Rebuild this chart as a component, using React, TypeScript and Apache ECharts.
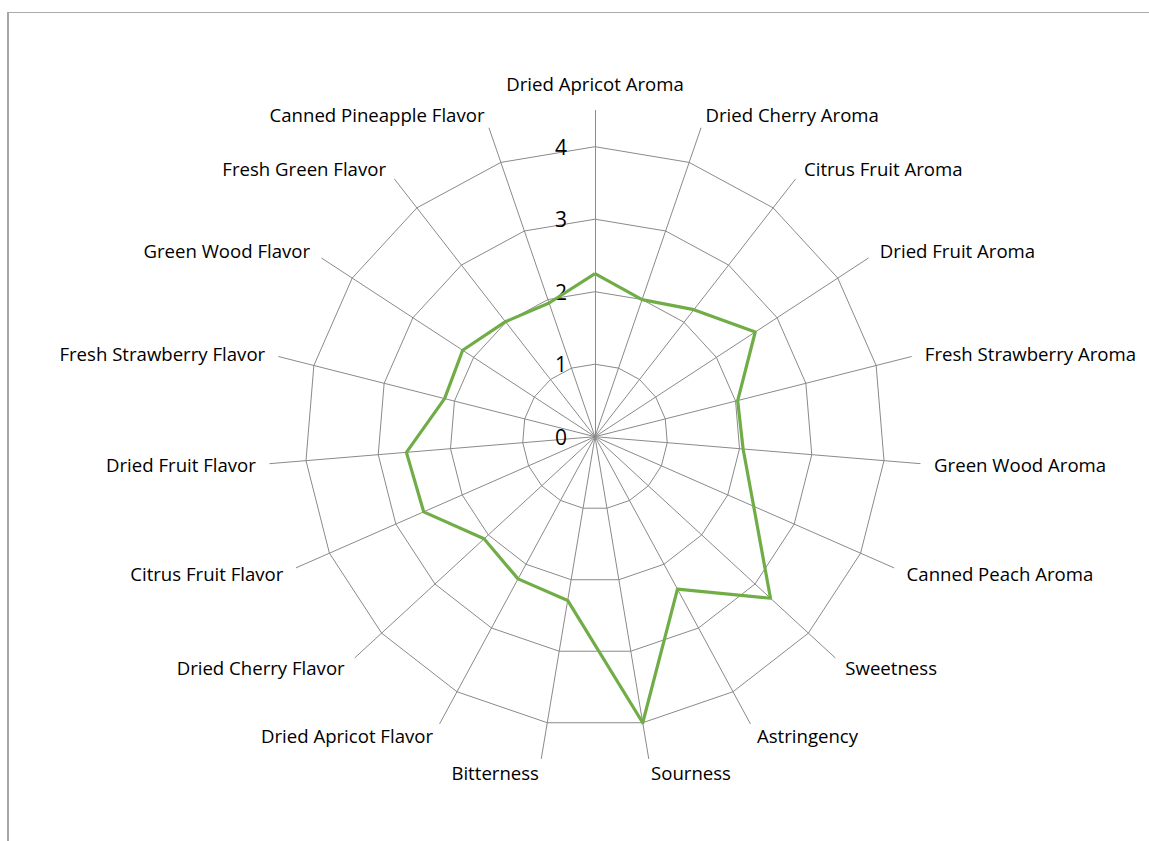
import React, { useEffect, useRef } from "react";
import * as echarts from "echarts";

// Sensory attributes, listed clockwise from the top spoke
const categories = [
  "Dried Apricot Aroma",
  "Dried Cherry Aroma",
  "Citrus Fruit Aroma",
  "Dried Fruit Aroma",
  "Fresh Strawberry Aroma",
  "Green Wood Aroma",
  "Canned Peach Aroma",
  "Sweetness",
  "Astringency",
  "Sourness",
  "Bitterness",
  "Dried Apricot Flavor",
  "Dried Cherry Flavor",
  "Citrus Fruit Flavor",
  "Dried Fruit Flavor",
  "Fresh Strawberry Flavor",
  "Green Wood Flavor",
  "Fresh Green Flavor",
  "Canned Pineapple Flavor",
];

// Mean panel scores per attribute
const scores = [
  2.25, 2.0, 2.22, 2.64, 2.03, 2.05, 2.39, 3.29, 2.39, 4.0,
  2.29, 2.23, 2.08, 2.58, 2.61, 2.14, 2.18, 2.01, 1.95,
];

// Rings on the value scale
const tickValues = [0, 1, 2, 3, 4];

const CENTER_X = 595;
const CENTER_Y = 436.7;
const RING_RADIUS = 290; // radius of the outermost ring (value 4)
const GRID_COLOR = "#8a8a8a";
const FONT = "'Open Sans', 'Noto Sans', sans-serif";

export default function App() {
  const ref = useRef<HTMLDivElement>(null);

  useEffect(() => {
    if (!ref.current) return;
    const chart = echarts.init(ref.current, undefined, { renderer: "svg" });

    const scaleMin = tickValues[0];
    const scaleMax = tickValues[tickValues.length - 1];
    const step = tickValues[1] - tickValues[0];
    // spokes run half a step past the outer ring
    const spokeMax = scaleMax + step / 2;
    const spokeRadius = (RING_RADIUS * spokeMax) / scaleMax;

    // ECharts lays indicators out counter-clockwise; reverse so they run clockwise
    const n = categories.length;
    const order = categories.map((_, i) => (n - i) % n);
    const orderedNames = order.map((i) => categories[i]);
    const orderedScores = order.map((i) => scores[i]);

    chart.setOption({
      animation: false,
      backgroundColor: "#ffffff",
      graphic: [
        {
          type: "line",
          shape: { x1: 7, y1: 12.5, x2: 1149, y2: 12.5 },
          style: { stroke: "#ababab", lineWidth: 1 },
          silent: true,
        },
        {
          type: "line",
          shape: { x1: 8, y1: 12, x2: 8, y2: 841 },
          style: { stroke: "#a6a6a6", lineWidth: 2 },
          silent: true,
        },
      ],
      radar: [
        {
          // spokes and category names
          center: [CENTER_X, CENTER_Y],
          radius: spokeRadius,
          startAngle: 90,
          shape: "polygon",
          splitNumber: 1,
          indicator: orderedNames.map((name) => ({ name, min: scaleMin, max: spokeMax })),
          nameGap: 14,
          axisName: { color: "#000000", fontSize: 18.6, lineHeight: 26, fontFamily: FONT },
          axisLine: { show: true, lineStyle: { color: GRID_COLOR, width: 1 } },
          axisTick: { show: false },
          axisLabel: { show: false },
          splitLine: { show: false },
          splitArea: { show: false },
        },
        {
          // value rings
          center: [CENTER_X, CENTER_Y],
          radius: RING_RADIUS,
          startAngle: 90,
          shape: "polygon",
          splitNumber: tickValues.length - 1,
          indicator: orderedNames.map(() => ({ name: "", min: scaleMin, max: scaleMax })),
          axisName: { show: false },
          axisLine: { show: false },
          axisTick: { show: false },
          axisLabel: { show: false },
          splitLine: { show: true, lineStyle: { color: GRID_COLOR, width: 1 } },
          splitArea: { show: false },
        },
      ],
      // value scale labels beside the top spoke
      grid: {
        left: CENTER_X - 1,
        top: CENTER_Y - RING_RADIUS,
        width: 2,
        height: RING_RADIUS,
      },
      xAxis: { type: "value", show: false },
      yAxis: {
        type: "value",
        min: scaleMin,
        max: scaleMax,
        interval: step,
        axisLine: { show: false },
        axisTick: { show: false },
        splitLine: { show: false },
        axisLabel: {
          margin: 27,
          fontSize: 21,
          color: "#000000",
          fontFamily: FONT,
          padding: [4, 0, 0, 0],
        },
      },
      series: [
        {
          type: "radar",
          radarIndex: 1,
          symbol: "none",
          silent: true,
          lineStyle: { color: "#70AD47", width: 3.2 },
          data: [{ value: orderedScores, name: "Score" }],
        },
      ],
    });

    return () => chart.dispose();
  }, []);

  return (
    <div
      ref={ref}
      style={{ position: "fixed", left: 0, top: 0, width: 1149, height: 841 }}
    />
  );
}
